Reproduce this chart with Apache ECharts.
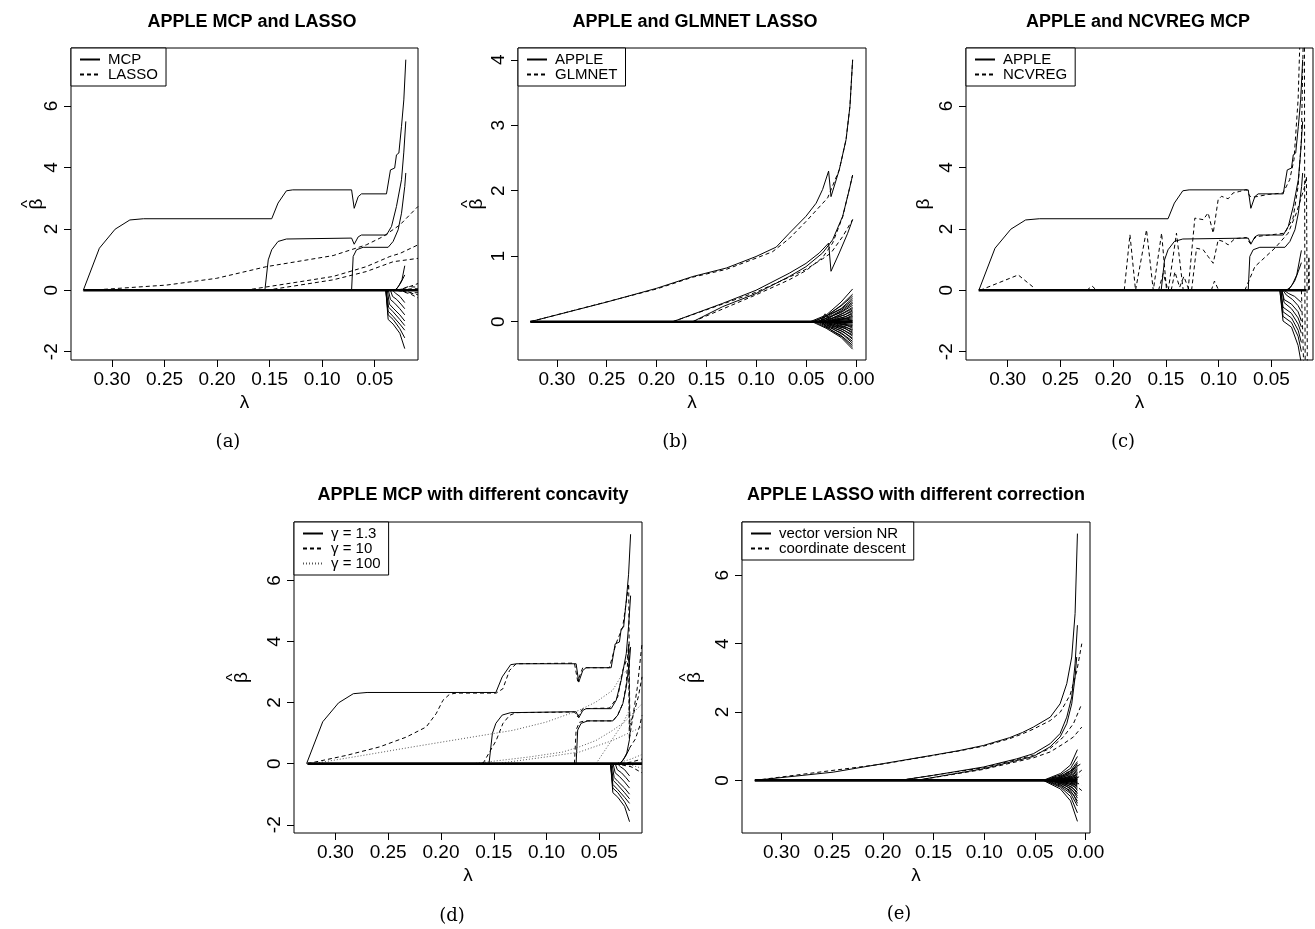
<!DOCTYPE html>
<html><head><meta charset="utf-8">
<script src="https://cdn.jsdelivr.net/npm/echarts@6/dist/echarts.min.js"></script>
<style>html,body{margin:0;padding:0;background:#fff}#c{width:1315px;height:929px}</style>
</head><body><div id="c"></div>
<script>
// ---------------- tick labels ----------------
const xTicksShort = [0.30, 0.25, 0.20, 0.15, 0.10, 0.05];
const xTicksLong = [0.30, 0.25, 0.20, 0.15, 0.10, 0.05, 0.00];
const yTicksMcp = [-2, 0, 2, 4, 6];
const yTicksGlm = [0, 1, 2, 3, 4];
const yTicksCorr = [0, 2, 4, 6];

// ---------------- APPLE MCP (gamma = 1.3) paths: [lambda, beta] ----------------
const mcpPath1 = [[0.3273,0],[0.312,1.37],[0.297,1.99],[0.283,2.29],[0.270,2.33],[0.148,2.33],[0.142,2.84],[0.134,3.24],[0.128,3.27],[0.072,3.27],[0.0695,2.67],[0.0657,3.05],[0.0626,3.14],[0.0388,3.14],[0.035,3.92],[0.031,3.98],[0.0293,4.41],[0.027,4.47],[0.0245,5.34],[0.0223,6.2],[0.0204,7.51]];
const mcpPath2 = [[0.1545,0],[0.1513,0.99],[0.148,1.32],[0.142,1.59],[0.134,1.67],[0.072,1.70],[0.0695,1.50],[0.0657,1.74],[0.0626,1.80],[0.0388,1.80],[0.034,2.08],[0.0293,2.73],[0.0245,3.6],[0.0223,4.5],[0.0204,5.5]];
const mcpPath3 = [[0.0720,0],[0.0705,1.1],[0.0673,1.32],[0.061,1.40],[0.0372,1.40],[0.0325,1.59],[0.0277,1.97],[0.0245,2.51],[0.0214,3.38],[0.0204,3.82]];
const mcpSpray = [
  [[0.0394,0],[0.0372,-0.95],[0.0325,-1.1],[0.0261,-1.4],[0.0214,-1.9]],
  [[0.0394,0],[0.0372,-0.8],[0.0325,-0.95],[0.0261,-1.25],[0.0214,-1.55]],
  [[0.0394,0],[0.0372,-0.68],[0.0325,-0.85],[0.0261,-1.1],[0.0214,-1.3]],
  [[0.039,0],[0.0368,-0.55],[0.0325,-0.7],[0.0261,-0.95],[0.0214,-1.15]],
  [[0.038,0],[0.036,-0.45],[0.0325,-0.58],[0.0261,-0.8],[0.0214,-1.0]],
  [[0.037,0],[0.035,-0.3],[0.031,-0.42],[0.0261,-0.6],[0.0214,-0.8]],
  [[0.035,0],[0.033,-0.2],[0.029,-0.3],[0.025,-0.45],[0.0214,-0.6]],
  [[0.033,0],[0.03,-0.1],[0.026,-0.2],[0.0214,-0.4]],
  [[0.031,0],[0.028,0.1],[0.025,0.25],[0.0214,0.5]],
  [[0.030,0],[0.027,0.15],[0.024,0.35],[0.0214,0.8]]
];

// ---------------- (a) LASSO ----------------
const lassoPath1 = [[0.321,0],[0.248,0.17],[0.2005,0.39],[0.153,0.77],[0.0896,1.13],[0.058,1.48],[0.042,1.75],[0.026,2.13],[0.0088,2.73]];
const lassoPath2 = [[0.1735,0],[0.121,0.28],[0.0896,0.45],[0.058,0.77],[0.0356,1.1],[0.026,1.2],[0.0088,1.48]];
const lassoPath3 = [[0.153,0],[0.0896,0.34],[0.058,0.61],[0.0325,0.93],[0.0088,1.04]];
const lassoSpray = [
  [[0.030,0],[0.020,0.08],[0.0088,0.22]],
  [[0.030,0],[0.020,-0.05],[0.0088,-0.15]],
  [[0.028,0],[0.018,0.12],[0.0088,0.1]],
  [[0.028,0],[0.016,-0.12],[0.0088,-0.25]],
  [[0.025,0],[0.015,0.05],[0.0088,0.05]],
  [[0.025,0],[0.015,-0.08],[0.0088,-0.08]]
];

// ---------------- (b) APPLE vs GLMNET LASSO ----------------
const appleB1 = [[0.3267,0],[0.25,0.3],[0.20,0.51],[0.1637,0.69],[0.13,0.82],[0.1003,0.995],[0.08,1.14],[0.067,1.35],[0.0502,1.61],[0.040,1.81],[0.0335,2.02],[0.0275,2.30],[0.0251,1.91],[0.0168,2.32],[0.010,2.78],[0.0061,3.29],[0.0034,4.0]];
const appleB2 = [[0.1838,0],[0.1337,0.28],[0.1003,0.48],[0.067,0.74],[0.0502,0.89],[0.0368,1.05],[0.0275,1.2],[0.0251,0.77],[0.0168,1.05],[0.0084,1.35],[0.0034,1.56]];
const appleB3 = [[0.1637,0],[0.1337,0.23],[0.1003,0.43],[0.067,0.69],[0.0502,0.84],[0.0335,1.05],[0.0235,1.25],[0.0134,1.61],[0.0067,2.02],[0.0034,2.24]];
const glmnetB1 = [[0.3267,0],[0.20,0.5],[0.1637,0.68],[0.13,0.8],[0.1003,0.97],[0.0836,1.07],[0.067,1.27],[0.0502,1.53],[0.0285,1.89],[0.0168,2.32],[0.010,2.78],[0.0061,3.29],[0.0034,4.0]];
const glmnetB2 = [[0.1838,0],[0.1337,0.27],[0.1003,0.45],[0.067,0.68],[0.0502,0.8],[0.0335,0.96],[0.0251,1.05],[0.0134,1.3],[0.0034,1.56]];
const glmnetB3 = [[0.1637,0],[0.1003,0.41],[0.067,0.64],[0.0502,0.78],[0.0335,0.98],[0.0235,1.2],[0.0134,1.6],[0.0034,2.24]];
const sprayB = [
  [[0.046,0],[0.03,0.1],[0.015,0.3],[0.0034,0.5]],
  [[0.044,0],[0.03,0.08],[0.015,0.25],[0.0034,0.42]],
  [[0.042,0],[0.028,0.1],[0.015,0.2],[0.0034,0.36]],
  [[0.040,0],[0.028,0.06],[0.015,0.17],[0.0034,0.3]],
  [[0.038,0],[0.025,0.08],[0.015,0.14],[0.0034,0.25]],
  [[0.036,0],[0.025,0.05],[0.015,0.11],[0.0034,0.2]],
  [[0.034,0],[0.022,0.06],[0.012,0.1],[0.0034,0.16]],
  [[0.032,0],[0.02,0.04],[0.012,0.07],[0.0034,0.12]],
  [[0.030,0],[0.018,0.03],[0.01,0.05],[0.0034,0.08]],
  [[0.028,0],[0.016,0.02],[0.0034,0.04]],
  [[0.028,0],[0.016,-0.02],[0.0034,-0.04]],
  [[0.030,0],[0.018,-0.03],[0.01,-0.05],[0.0034,-0.08]],
  [[0.032,0],[0.02,-0.05],[0.012,-0.08],[0.0034,-0.12]],
  [[0.034,0],[0.022,-0.06],[0.012,-0.1],[0.0034,-0.16]],
  [[0.036,0],[0.025,-0.06],[0.015,-0.11],[0.0034,-0.2]],
  [[0.038,0],[0.025,-0.08],[0.015,-0.14],[0.0034,-0.25]],
  [[0.040,0],[0.028,-0.08],[0.015,-0.17],[0.0034,-0.3]],
  [[0.042,0],[0.028,-0.1],[0.015,-0.21],[0.0034,-0.36]],
  [[0.044,0],[0.03,-0.1],[0.015,-0.24],[0.0034,-0.42]],
  [[0.036,0],[0.031,0.12],[0.027,0.05]],
  [[0.034,0],[0.029,-0.1],[0.025,-0.04]],
  [[0.030,0],[0.02,0.08],[0.012,0.14],[0.0034,0.22]],
  [[0.029,0],[0.019,0.06],[0.011,0.11],[0.0034,0.18]],
  [[0.027,0],[0.017,0.05],[0.01,0.08],[0.0034,0.14]],
  [[0.026,0],[0.016,0.04],[0.009,0.06],[0.0034,0.1]],
  [[0.025,0],[0.015,0.03],[0.0034,0.06]],
  [[0.024,0],[0.014,0.01],[0.0034,0.02]],
  [[0.024,0],[0.014,-0.01],[0.0034,-0.02]],
  [[0.025,0],[0.015,-0.03],[0.0034,-0.06]],
  [[0.026,0],[0.016,-0.04],[0.009,-0.06],[0.0034,-0.1]],
  [[0.027,0],[0.017,-0.05],[0.01,-0.08],[0.0034,-0.14]],
  [[0.029,0],[0.019,-0.06],[0.011,-0.1],[0.0034,-0.18]],
  [[0.030,0],[0.02,-0.08],[0.012,-0.13],[0.0034,-0.22]],
  [[0.031,0],[0.021,-0.1],[0.012,-0.16],[0.0034,-0.27]],
  [[0.033,0],[0.022,-0.12],[0.013,-0.2],[0.0034,-0.33]],
  [[0.035,0],[0.024,-0.14],[0.014,-0.23],[0.0034,-0.39]],
  [[0.033,0],[0.022,0.1],[0.013,0.17],[0.0034,0.28]],
  [[0.035,0],[0.024,0.12],[0.014,0.2],[0.0034,0.33]],
  [[0.037,0],[0.026,0.13],[0.015,0.24],[0.0034,0.39]]
];

// ---------------- (c) NCVREG MCP ----------------
const ncvregPaths = [
  [[0.3262,0],[0.290,0.5],[0.2757,0.1],[0.274,0]],
  [[0.225,0],[0.220,0.14],[0.2157,0]],
  [[0.1895,0],[0.1841,1.81],[0.1788,0],[0.1684,1.97],[0.162,0],[0.1541,1.86],[0.1494,0]],
  [[0.1478,0],[0.140,1.86],[0.1336,0]],
  [[0.129,0],[0.1226,2.35],[0.1147,2.3],[0.110,2.52],[0.1052,1.86],[0.1005,2.95],[0.0973,3.06],[0.091,2.98],[0.0863,3.17],[0.080,3.22],[0.0736,3.28],[0.0705,3.06],[0.0657,3.04],[0.0531,3.12],[0.039,3.17],[0.0327,3.6],[0.0286,4.26],[0.0247,6.22],[0.0232,7.9]],
  [[0.1257,0],[0.121,1.37],[0.1147,1.32],[0.110,1.1],[0.1052,0.88],[0.1005,1.64],[0.0957,1.59],[0.091,1.48],[0.0847,1.68],[0.0736,1.72],[0.0705,1.54],[0.0641,1.75],[0.0374,1.86],[0.0295,2.35],[0.0247,3.39],[0.0216,4.9],[0.020,7.9]],
  [[0.0752,0],[0.0657,0.77],[0.0468,1.37],[0.0342,1.86],[0.0263,2.52],[0.0184,3.39],[0.0168,3.7],[0.0163,0.5],[0.016,-2.4]],
  [[0.157,0],[0.1526,0.55],[0.148,0]],
  [[0.145,0],[0.1415,0.6],[0.137,0.1],[0.133,0.45],[0.128,0]],
  [[0.107,0],[0.104,0.3],[0.100,0]],
  [[0.0216,0],[0.0205,-1.2],[0.0195,-2.4]],
  [[0.0187,7.9],[0.0185,3.0],[0.0183,0],[0.018,-2.4]],
  [[0.015,0],[0.0145,1.1],[0.014,0]]
];
const sprayC = [
  [[0.042,0],[0.039,-1.0],[0.031,-1.2],[0.0247,-1.8],[0.0216,-2.4]],
  [[0.042,0],[0.039,-0.85],[0.031,-1.05],[0.0247,-1.5],[0.0216,-2.0]],
  [[0.041,0],[0.039,-0.7],[0.031,-0.9],[0.0247,-1.3],[0.0216,-1.7]],
  [[0.041,0],[0.039,-0.55],[0.031,-0.75],[0.0247,-1.1],[0.0216,-1.4]],
  [[0.040,0],[0.038,-0.4],[0.031,-0.6],[0.0247,-0.9],[0.0216,-1.2]],
  [[0.040,0],[0.038,-0.3],[0.031,-0.45],[0.0247,-0.7],[0.0216,-1.0]],
  [[0.039,0],[0.036,-0.15],[0.030,-0.3],[0.0247,-0.5],[0.0216,-0.7]],
  [[0.038,0],[0.034,-0.1],[0.028,-0.2],[0.0216,-0.4]],
  [[0.036,0],[0.032,0.1],[0.028,0.3],[0.0247,0.6],[0.0216,0.9]],
  [[0.034,0],[0.030,0.2],[0.026,0.5],[0.0216,1.3]]
];

// ---------------- (d) different concavity ----------------
const gamma10Paths = [
  [[0.3265,0],[0.2896,0.27],[0.258,0.55],[0.2328,0.87],[0.214,1.2],[0.2045,1.64],[0.1982,2.07],[0.1919,2.27],[0.1855,2.31],[0.1477,2.31],[0.1414,2.45],[0.1351,3.05],[0.1288,3.27],[0.0736,3.29],[0.0705,2.7],[0.0657,3.14],[0.0405,3.14],[0.0342,3.93],[0.0279,4.47],[0.0247,5.24],[0.0222,5.89],[0.0216,3.0],[0.0210,0.9]],
  [[0.1603,0],[0.1477,0.76],[0.1414,1.31],[0.1351,1.58],[0.1288,1.67],[0.0736,1.69],[0.0705,1.53],[0.0657,1.8],[0.0405,1.82],[0.0326,2.18],[0.0279,3.05],[0.0232,3.49],[0.0222,3.9],[0.0216,1.5]],
  [[0.0736,0],[0.072,1.1],[0.069,1.35],[0.064,1.40],[0.0372,1.40],[0.0325,1.6],[0.0277,1.97],[0.0245,2.6],[0.0222,3.9],[0.0216,0.8]],
  [[0.0216,0.8],[0.018,1.6],[0.014,2.5],[0.0096,3.93]],
  [[0.0216,1.2],[0.017,1.7],[0.013,2.2],[0.0096,2.84]],
  [[0.0216,0.5],[0.016,0.8],[0.012,1.2],[0.0096,1.58]],
  [[0.035,0],[0.02,-0.1],[0.0096,-0.3]],
  [[0.03,0],[0.02,0.05],[0.0096,0.15]]
];
const gamma100Paths = [
  [[0.3211,0],[0.2738,0.27],[0.2265,0.55],[0.1792,0.82],[0.132,1.09],[0.1004,1.36],[0.0689,1.75],[0.0531,2.02],[0.0374,2.4],[0.0279,2.95],[0.0232,3.05]],
  [[0.1698,0],[0.1162,0.22],[0.0847,0.38],[0.0689,0.55],[0.0531,0.76],[0.0374,1.09],[0.0263,1.36],[0.0096,1.96]],
  [[0.1477,0],[0.1004,0.22],[0.0689,0.38],[0.0374,0.76],[0.0096,1.2]],
  [[0.0531,0],[0.0279,1.31],[0.0222,1.7]],
  [[0.035,0],[0.02,0.15],[0.0096,0.3]],
  [[0.03,0],[0.02,-0.05],[0.0096,-0.15]]
];

// ---------------- (e) different correction ----------------
const nrPaths = [
  [[0.3263,0],[0.249,0.24],[0.1997,0.49],[0.150,0.74],[0.125,0.87],[0.101,1.02],[0.075,1.25],[0.0625,1.4],[0.0516,1.56],[0.035,1.85],[0.0253,2.24],[0.0187,2.83],[0.0138,3.61],[0.0105,4.88],[0.0082,7.22]],
  [[0.1832,0],[0.150,0.15],[0.101,0.39],[0.068,0.63],[0.0516,0.78],[0.0352,1.07],[0.0253,1.37],[0.0187,1.85],[0.0138,2.44],[0.0105,3.41],[0.0082,4.54]],
  [[0.1668,0],[0.101,0.34],[0.0516,0.7],[0.0352,0.98],[0.0253,1.27],[0.0187,1.66],[0.0138,2.24],[0.0105,3.02],[0.0089,3.61]]
];
const cdPaths = [
  [[0.3263,0],[0.1997,0.48],[0.125,0.86],[0.101,1.0],[0.075,1.22],[0.0625,1.36],[0.0516,1.5],[0.035,1.75],[0.025,2.0],[0.0154,2.5],[0.0088,3.2],[0.0039,4.0]],
  [[0.1832,0],[0.101,0.37],[0.0516,0.73],[0.0352,0.93],[0.022,1.27],[0.0121,1.66],[0.0039,2.24]],
  [[0.1668,0],[0.101,0.32],[0.0516,0.66],[0.0352,0.83],[0.022,1.07],[0.0121,1.27],[0.0039,1.56]],
  [[0.040,0],[0.02,0.2],[0.0039,0.5]],
  [[0.012,0.1],[0.0039,0.3]],
  [[0.012,-0.1],[0.0039,-0.3]],
  [[0.010,0.05],[0.0039,0.15]],
  [[0.010,-0.05],[0.0039,-0.15]]
];
const sprayE = [
  [[0.042,0],[0.025,0.2],[0.015,0.45],[0.0082,0.9]],
  [[0.041,0],[0.025,0.16],[0.015,0.35],[0.0082,0.7]],
  [[0.040,0],[0.025,0.12],[0.015,0.28],[0.0082,0.55]],
  [[0.039,0],[0.025,0.1],[0.015,0.22],[0.0082,0.45]],
  [[0.038,0],[0.024,0.08],[0.015,0.17],[0.0082,0.35]],
  [[0.037,0],[0.023,0.06],[0.014,0.13],[0.0082,0.27]],
  [[0.036,0],[0.022,0.05],[0.013,0.1],[0.0082,0.2]],
  [[0.035,0],[0.021,0.03],[0.012,0.07],[0.0082,0.13]],
  [[0.034,0],[0.020,0.02],[0.012,0.04],[0.0082,0.07]],
  [[0.033,0],[0.020,0.01],[0.0082,0.02]],
  [[0.033,0],[0.020,-0.02],[0.0082,-0.04]],
  [[0.034,0],[0.020,-0.03],[0.012,-0.06],[0.0082,-0.1]],
  [[0.035,0],[0.021,-0.05],[0.012,-0.1],[0.0082,-0.17]],
  [[0.036,0],[0.022,-0.07],[0.013,-0.14],[0.0082,-0.25]],
  [[0.037,0],[0.023,-0.09],[0.014,-0.19],[0.0082,-0.35]],
  [[0.038,0],[0.024,-0.11],[0.015,-0.23],[0.0082,-0.45]],
  [[0.039,0],[0.025,-0.14],[0.015,-0.3],[0.0082,-0.6]],
  [[0.040,0],[0.025,-0.17],[0.015,-0.38],[0.0082,-0.75]],
  [[0.041,0],[0.025,-0.2],[0.015,-0.47],[0.0082,-0.95]],
  [[0.042,0],[0.025,-0.25],[0.015,-0.6],[0.0082,-1.2]],
  [[0.030,0],[0.018,0.1],[0.012,0.2],[0.0082,0.31]],
  [[0.029,0],[0.017,0.08],[0.011,0.15],[0.0082,0.24]],
  [[0.028,0],[0.016,0.06],[0.011,0.11],[0.0082,0.17]],
  [[0.027,0],[0.015,0.04],[0.0082,0.1]],
  [[0.026,0],[0.015,0.02],[0.0082,0.05]],
  [[0.026,0],[0.015,-0.03],[0.0082,-0.07]],
  [[0.027,0],[0.015,-0.05],[0.0082,-0.13]],
  [[0.028,0],[0.016,-0.08],[0.011,-0.14],[0.0082,-0.21]],
  [[0.029,0],[0.017,-0.1],[0.011,-0.19],[0.0082,-0.3]],
  [[0.030,0],[0.018,-0.13],[0.012,-0.25],[0.0082,-0.4]],
  [[0.031,0],[0.019,-0.17],[0.012,-0.33],[0.0082,-0.52]],
  [[0.032,0],[0.02,-0.22],[0.012,-0.42],[0.0082,-0.67]],
  [[0.031,0],[0.019,0.14],[0.012,0.27],[0.0082,0.4]],
  [[0.032,0],[0.02,0.17],[0.012,0.33],[0.0082,0.5]]
];

// zero-coefficient bundles (many coefficients exactly zero)
const zeroA = [[0.3273,0],[0.0088,0]];
const zeroB = [[0.3267,0],[0.0034,0]];
const zeroC = [[0.3275,0],[0.0169,0]];
const zeroD = [[0.3265,0],[0.0096,0]];
const zeroE = [[0.3263,0],[0.0082,0]];

// ---------------- chart ----------------
const FONT = '"Liberation Sans", Arial, Helvetica, sans-serif';
const ST = {
  solid: {color:'#000', width:1, type:'solid'},
  dash:  {color:'#000', width:1, type:[4,3]},
  dot:   {color:'#555', width:1, type:[1,2]},
  zero:  {color:'#000', width:2.6, type:'solid'}
};
const series = [];
function add(gi, name, paths, st) {
  paths.forEach(p => series.push({
    type:'line', name, xAxisIndex:gi, yAxisIndex:gi, data:p,
    symbol:'none', showSymbol:false, silent:true, animation:false,
    color: st.color, lineStyle: Object.assign({}, st), z: 2
  }));
}

const panels = [
  {grid:{left:71, top:48, width:347, height:312}, x:[0.0088,0.339], y:[-2.27,7.89], xt:xTicksShort, yt:yTicksMcp, hat:true, ygap:30},
  {grid:{left:518, top:48, width:348, height:312}, x:[-0.010,0.339], y:[-0.585,4.18], xt:xTicksLong, yt:yTicksGlm, hat:true, ygap:37},
  {grid:{left:966, top:48, width:347, height:312}, x:[0.0106,0.3395], y:[-2.27,7.89], xt:xTicksShort, yt:yTicksMcp, hat:false, ygap:38},
  {grid:{left:294, top:522, width:348, height:311}, x:[0.0096,0.3392], y:[-2.27,7.91], xt:xTicksShort, yt:yTicksMcp, hat:true, ygap:48},
  {grid:{left:742, top:522, width:348, height:311}, x:[-0.0042,0.3389], y:[-1.54,7.56], xt:xTicksLong, yt:yTicksCorr, hat:true, ygap:43}
];

// (a)
add(0, 'MCP', [mcpPath1, mcpPath2, mcpPath3], ST.solid);
add(0, 'LASSO', [lassoPath1, lassoPath2, lassoPath3], ST.dash);
add(0, 'LASSO', lassoSpray, ST.dash);
add(0, 'MCP', mcpSpray, ST.solid);
add(0, 'MCP', [zeroA], ST.zero);
// (b)
add(1, 'APPLE', [appleB1, appleB2, appleB3], ST.solid);
add(1, 'GLMNET', [glmnetB1, glmnetB2, glmnetB3], ST.dash);
add(1, 'APPLE', sprayB, ST.solid);
add(1, 'APPLE', [zeroB], ST.zero);
// (c)
add(2, 'APPLE', [mcpPath1, mcpPath2, mcpPath3], ST.solid);
add(2, 'NCVREG', ncvregPaths, ST.dash);
add(2, 'APPLE', sprayC, ST.solid);
add(2, 'APPLE', [zeroC], ST.zero);
// (d)
add(3, 'γ = 1.3', [mcpPath1, mcpPath2, mcpPath3], ST.solid);
add(3, 'γ = 10', gamma10Paths, ST.dash);
add(3, 'γ = 100', gamma100Paths, ST.dot);
add(3, 'γ = 1.3', mcpSpray, ST.solid);
add(3, 'γ = 1.3', [zeroD], ST.zero);
// (e)
add(4, 'vector version NR', nrPaths, ST.solid);
add(4, 'coordinate descent', cdPaths, ST.dash);
add(4, 'vector version NR', sprayE, ST.solid);
add(4, 'vector version NR', [zeroE], ST.zero);

const grids = panels.map(p => Object.assign({show:true, borderColor:'#000', borderWidth:1, backgroundColor:'transparent', containLabel:false}, p.grid));
const xAxes = panels.map((p, i) => ({
  type:'value', gridIndex:i, inverse:true, min:p.x[0], max:p.x[1], position:'bottom',
  name:'λ', nameLocation:'middle', nameGap:33, nameMoveOverlap:false,
  nameTextStyle:{fontFamily:FONT, fontSize:19, color:'#000'},
  axisLine:{show:false, onZero:false}, splitLine:{show:false},
  axisTick:{show:true, inside:false, length:7, lineStyle:{color:'#000', width:1}, customValues:p.xt},
  axisLabel:{show:true, margin:10, fontFamily:FONT, fontSize:19, color:'#000', customValues:p.xt, formatter:v => v.toFixed(2)}
}));
const yAxes = panels.map((p, i) => ({
  type:'value', gridIndex:i, min:p.y[0], max:p.y[1], position:'left',
  name: p.hat ? '{h|^}\n{b|β}' : '{b|β}', nameLocation:'middle', nameGap:p.ygap, nameRotate:90, nameMoveOverlap:false,
  nameTextStyle:{fontFamily:FONT, fontSize:19, color:'#000',
    rich:{h:{fontFamily:FONT, fontSize:17, lineHeight:9, color:'#000'}, b:{fontFamily:FONT, fontSize:19, lineHeight:8, color:'#000'}}},
  axisLine:{show:false, onZero:false}, splitLine:{show:false},
  axisTick:{show:true, inside:false, length:7, lineStyle:{color:'#000', width:1}, customValues:p.yt},
  axisLabel:{show:true, rotate:90, margin:10, fontFamily:FONT, fontSize:19, color:'#000', customValues:p.yt, formatter:v => String(v)}
}));

function legend(left, top, names) {
  return {
    data:names, left, top, orient:'vertical', itemWidth:20, itemHeight:12, itemGap:0,
    padding:[4,8,4,8], borderColor:'#000', borderWidth:1, borderRadius:0, backgroundColor:'#fff',
    selectedMode:false, z:10,
    itemStyle:{opacity:0, borderWidth:0},
    textStyle:{fontFamily:FONT, fontSize:15, color:'#000', padding:[0,0,0,3]}
  };
}

function txt(x, y, text, font) {
  return {type:'text', x, y, z:20, silent:true,
    style:{text, font, fill:'#000', align:'center', verticalAlign:'middle', textAlign:'center', textVerticalAlign:'middle'}};
}
const TF = 'bold 18px "Liberation Sans", Arial, sans-serif';
const CF = '18px "DejaVu Serif", serif';

const option = {
  backgroundColor:'#fff',
  animation:false,
  grid:grids, xAxis:xAxes, yAxis:yAxes, series,
  legend:[
    legend(71, 48, ['MCP','LASSO']),
    legend(518, 48, ['APPLE','GLMNET']),
    legend(966, 48, ['APPLE','NCVREG']),
    legend(294, 522, ['γ = 1.3','γ = 10','γ = 100']),
    legend(742, 522, ['vector version NR','coordinate descent'])
  ],
  graphic:[
    txt(252, 22, 'APPLE MCP and LASSO', TF),
    txt(695, 22, 'APPLE and GLMNET LASSO', TF),
    txt(1138, 22, 'APPLE and NCVREG MCP', TF),
    txt(473, 495, 'APPLE MCP with different concavity', TF),
    txt(916, 495, 'APPLE LASSO with different correction', TF),
    txt(228, 442, '(a)', CF),
    txt(675, 442, '(b)', CF),
    txt(1123, 442, '(c)', CF),
    txt(452, 916, '(d)', CF),
    txt(899, 914, '(e)', CF)
  ]
};
const chart = echarts.init(document.getElementById('c'), null, {renderer:'canvas'});
chart.setOption(option);
</script></body></html>
